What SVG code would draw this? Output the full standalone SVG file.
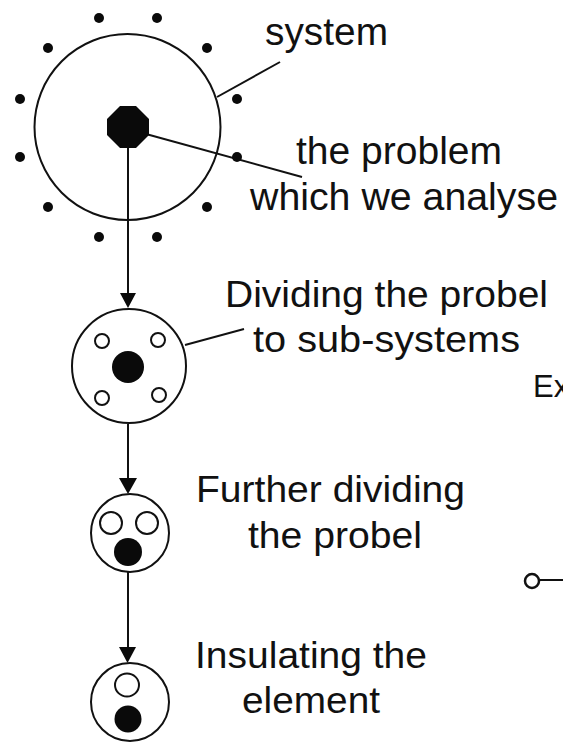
<svg xmlns="http://www.w3.org/2000/svg" width="563" height="742" viewBox="0 0 563 742">
<defs>
<style>
.ring{fill:none;stroke:#111;stroke-width:2}
.hole{fill:#fff;stroke:#111;stroke-width:2}
.solid{fill:#0a0a0a}
.dot{fill:#0a0a0a}
.ln{stroke:#111;stroke-width:2;fill:none}
.ah{fill:#0a0a0a}
.t{font-family:"Liberation Sans",Arial,sans-serif;fill:#111}
</style>
</defs>
<rect width="563" height="742" fill="#fff"/>
<g id="connectors">
<line class="ln" x1="128" y1="147" x2="128" y2="295"/>
<polygon class="ah" points="120,293 136,293 128,308"/>
<line class="ln" x1="128" y1="424" x2="128" y2="480"/>
<polygon class="ah" points="119,478 137,478 128,494"/>
<line class="ln" x1="128" y1="572" x2="128" y2="649"/>
<polygon class="ah" points="119,647 136,647 127.5,663"/>
<line class="ln" x1="217" y1="97" x2="280" y2="62"/>
<line class="ln" x1="146" y1="134" x2="302" y2="177"/>
<line class="ln" x1="185" y1="345" x2="244" y2="329"/>
<line class="ln" x1="540" y1="580" x2="563" y2="580"/>
</g>
<g id="system">
<circle class="ring" cx="127.5" cy="127" r="93"/>
<polygon class="solid" points="120,106 136,106 149,119 149,135 136,148 120,148 107,135 107,119"/>
<circle class="dot" cx="99" cy="18" r="5"/>
<circle class="dot" cx="157" cy="18" r="5"/>
<circle class="dot" cx="48" cy="48" r="5"/>
<circle class="dot" cx="207" cy="48" r="5"/>
<circle class="dot" cx="20" cy="99" r="5"/>
<circle class="dot" cx="237" cy="99" r="5"/>
<circle class="dot" cx="20" cy="157" r="5"/>
<circle class="dot" cx="237" cy="157" r="5"/>
<circle class="dot" cx="48" cy="207" r="5"/>
<circle class="dot" cx="207" cy="207" r="5"/>
<circle class="dot" cx="99" cy="237" r="5"/>
<circle class="dot" cx="157" cy="237" r="5"/>
</g>
<g id="subsystems">
<circle class="ring" cx="129" cy="366" r="57"/>
<circle class="solid" cx="128" cy="367" r="16"/>
<circle class="hole" cx="102" cy="341" r="7"/>
<circle class="hole" cx="158" cy="340" r="7"/>
<circle class="hole" cx="102" cy="398" r="7"/>
<circle class="hole" cx="159" cy="395" r="7"/>
</g>
<g id="further">
<circle class="ring" cx="130" cy="533" r="39"/>
<circle class="hole" cx="111" cy="523" r="11"/>
<circle class="hole" cx="147" cy="523" r="11"/>
<circle class="solid" cx="128" cy="552" r="14"/>
</g>
<g id="element">
<circle class="ring" cx="130" cy="702" r="39"/>
<ellipse class="hole" cx="127" cy="685" rx="12" ry="11.5"/>
<circle class="solid" cx="128" cy="719" r="13.5"/>
</g>
<g id="stub">
<circle cx="532" cy="581" r="7" fill="#fff" stroke="#111" stroke-width="2.5"/>
</g>
<g id="labels">
<text class="t" x="265" y="45" font-size="38" textLength="123" lengthAdjust="spacingAndGlyphs">system</text>
<text class="t" x="296" y="164" font-size="38" textLength="206" lengthAdjust="spacingAndGlyphs">the problem</text>
<text class="t" x="250" y="210" font-size="38" textLength="308" lengthAdjust="spacingAndGlyphs">which we analyse</text>
<text class="t" x="225" y="307" font-size="36" textLength="323" lengthAdjust="spacingAndGlyphs">Dividing the probel</text>
<text class="t" x="253" y="352" font-size="36" textLength="267" lengthAdjust="spacingAndGlyphs">to sub-systems</text>
<text class="t" x="196" y="502" font-size="37" textLength="269" lengthAdjust="spacingAndGlyphs">Further dividing</text>
<text class="t" x="248" y="548" font-size="37" textLength="174" lengthAdjust="spacingAndGlyphs">the probel</text>
<text class="t" x="195" y="668" font-size="37" textLength="232" lengthAdjust="spacingAndGlyphs">Insulating the</text>
<text class="t" x="242" y="713" font-size="37" textLength="138" lengthAdjust="spacingAndGlyphs">element</text>
<text class="t" x="533" y="397" font-size="31">Ex</text>
</g>
</svg>
